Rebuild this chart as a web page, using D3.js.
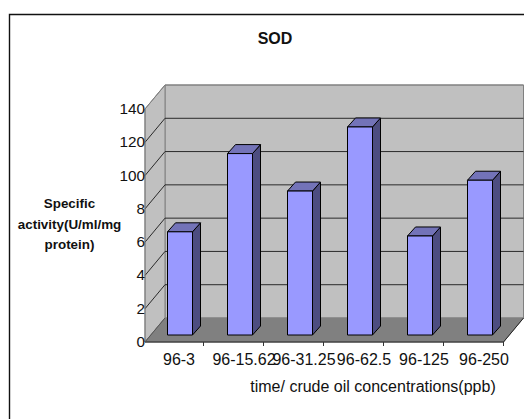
<!DOCTYPE html>
<html><head><meta charset="utf-8">
<script src="https://cdnjs.cloudflare.com/ajax/libs/d3/7.8.5/d3.min.js"></script>
<style>html,body{margin:0;padding:0;background:#fff}svg{display:block}text{font-family:"Liberation Sans",Arial,sans-serif;fill:#111}</style>
</head><body><svg id="c" width="524" height="419"></svg>
<script>
const categories = ["96-3","96-15.62","96-31.25","96-62.5","96-125","96-250"];
const values = [62, 109, 86.5, 125, 59.5, 93];
const gridValues = [0,20,40,60,80,100,120,140];
const tickLabels = ["0","2","4","6","8","100","120","140"];
const titleText = "SOD";
const yTitleLines = ["Specific","activity(U/ml/mg","protein)"];
const xTitleText = "time/ crude oil concentrations(ppb)";

const svg = d3.select("#c");
// depth of the 3D box and of each bar
const depth = {dx:20, dy:-24}, barDepth = {dx:8, dy:-9};
const x = d3.scaleBand().domain(categories).range([143.5,503.5]);
const y = d3.scaleLinear().domain([0,140]).range([342,109]);
const yb = v => y(v) - 7;              // bars stand a little inside the floor
const barW = 25;
const pts = a => a.map(p=>p.join(",")).join(" ");
const left = x.range()[0]+1.5, right = x.range()[1];
const top0 = y(140), base = y(0);

// frame
svg.append("path").attr("d","M9.5 419V14.5H524").attr("fill","none").attr("stroke","#111").attr("stroke-width",1.4);

// back wall
svg.append("polygon").attr("points",pts([[left+depth.dx,top0+depth.dy],[right+depth.dx,top0+depth.dy],[right+depth.dx,base+depth.dy],[left+depth.dx,base+depth.dy]]))
  .attr("fill","#c0c0c0").attr("stroke","#808080");
// side wall
svg.append("polygon").attr("points",pts([[left,top0],[left+depth.dx,top0+depth.dy],[left+depth.dx,base+depth.dy],[left,base]]))
  .attr("fill","#c0c0c0").attr("stroke","#808080");
// floor
svg.append("polygon").attr("points",pts([[left,base],[left+depth.dx,base+depth.dy],[right+depth.dx,base+depth.dy],[right,base]]))
  .attr("fill","#808080").attr("stroke","#808080");

// gridlines
svg.append("g").selectAll("path").data(gridValues.slice(1)).join("path")
  .attr("d",v=>`M${left} ${y(v)}L${left+depth.dx} ${y(v)+depth.dy}H${right+depth.dx}`)
  .attr("fill","none").attr("stroke",v=>v===140?"#808080":"#2a2a2a").attr("stroke-width",1);

// axes lines
svg.append("path").attr("d",`M${left} ${top0}V${base}`).attr("stroke","#808080").attr("fill","none");
svg.append("path").attr("d",`M${left} ${base}H${right}L${right+depth.dx} ${base+depth.dy}`).attr("stroke","#222").attr("fill","none");
svg.append("path").attr("d",`M${left} ${base}L${left+depth.dx} ${base+depth.dy}`).attr("stroke","#555").attr("fill","none");
svg.append("g").selectAll("line").data(categories).join("line")
  .attr("x1",d=>x(d)+x.bandwidth()).attr("x2",d=>x(d)+x.bandwidth())
  .attr("y1",base).attr("y2",base+4).attr("stroke","#333");

// bars
const bars = svg.append("g").selectAll("g").data(categories.map((c,i)=>({c,v:values[i]}))).join("g")
  .attr("stroke","#000").attr("stroke-width",1).attr("stroke-linejoin","round");
const bx = d => Math.round(x(d.c)+(x.bandwidth()-barW)/2 + 6) + .5;
bars.append("polygon").attr("fill","#4d4d80").attr("points",d=>pts([[bx(d)+barW,yb(d.v)],[bx(d)+barW+barDepth.dx,yb(d.v)+barDepth.dy],[bx(d)+barW+barDepth.dx,yb(0)+barDepth.dy],[bx(d)+barW,yb(0)]]));
bars.append("polygon").attr("fill","#7373b8").attr("points",d=>pts([[bx(d),yb(d.v)],[bx(d)+barDepth.dx,yb(d.v)+barDepth.dy],[bx(d)+barW+barDepth.dx,yb(d.v)+barDepth.dy],[bx(d)+barW,yb(d.v)]]));
bars.append("rect").attr("fill","#9999ff").attr("x",bx).attr("y",d=>yb(d.v)).attr("width",barW).attr("height",d=>yb(0)-yb(d.v));

// tick labels
svg.append("g").selectAll("text").data(gridValues).join("text")
  .attr("x",145).attr("y",v=>y(v)+5).attr("text-anchor","end").attr("font-size",15.3)
  .text((v,i)=>tickLabels[i]);
svg.append("g").selectAll("text").data(categories).join("text")
  .attr("x",d=>x(d)+x.bandwidth()/2+10.5).attr("dx",d=>d.length<5?-5:0).attr("y",365).attr("text-anchor","middle").attr("font-size",16).text(d=>d);

// titles
svg.append("text").attr("x",275).attr("y",44).attr("text-anchor","middle").attr("font-size",16).attr("font-weight","bold").text(titleText);
svg.append("g").selectAll("text").data(yTitleLines).join("text")
  .attr("x",69.5).attr("y",(d,i)=>208+i*20.5).attr("text-anchor","middle").attr("font-size",13.4).attr("font-weight","bold").text(d=>d);
svg.append("text").attr("x",373).attr("y",392).attr("text-anchor","middle").attr("font-size",16).text(xTitleText);
</script></body></html>
